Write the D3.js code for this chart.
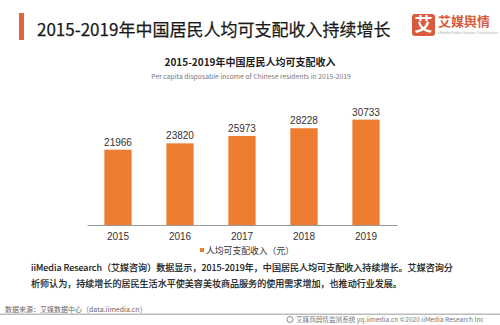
<!DOCTYPE html>
<html><head><meta charset="utf-8">
<script src="https://cdn.jsdelivr.net/npm/d3@7"></script>
<style>
html,body{margin:0;padding:0;background:#fff;}
svg{display:block;}
</style></head>
<body>
<svg id="c" width="500" height="325"></svg>
<script>
const years = ["2015","2016","2017","2018","2019"];
const income = [21966, 23820, 25973, 28228, 30733];
const seriesName = "人均可支配收入（元）";
const title = "2015-2019年中国居民人均可支配收入持续增长";
const chartTitle = "2015-2019年中国居民人均可支配收入";
const chartSubtitle = "Per capita disposable income of Chinese residents in 2015-2019";
const bodyLines = ["iiMedia Research（艾媒咨询）数据显示，2015-2019年，中国居民人均可支配收入持续增长。艾媒咨询分",
                   "析师认为，持续增长的居民生活水平使美容美妆商品服务的使用需求增加，也推动行业发展。"];
const sourceText = "数据来源：艾媒数据中心（data.iimedia.cn）";
const footerText = "艾媒商舆情监测系统 yq.iimedia.cn  ©2020  iiMedia Research  Inc";

const CJK = "'Noto Sans CJK SC','Noto Sans',sans-serif";
const svg = d3.select("#c");
const orange = "#ED7D31";
const red = "#DA5A3C";

// header
svg.append("rect").attr("x",19).attr("y",13).attr("width",5).attr("height",27).attr("fill","#E0643E");
svg.append("text").attr("x",37).attr("y",36).attr("font-family",CJK).attr("font-size",17)
  .attr("fill","#1a1a1a").attr("stroke","#1a1a1a").attr("stroke-width",0.25).text(title);
// logo
svg.append("rect").attr("x",412).attr("y",14).attr("width",23).attr("height",22).attr("rx",3).attr("fill",red);
svg.append("text").attr("x",423.5).attr("y",31).attr("text-anchor","middle").attr("font-family",CJK)
  .attr("font-weight","bold").attr("font-size",18).attr("fill","#fff").text("艾");
svg.append("text").attr("x",438).attr("y",26).attr("font-family",CJK).attr("font-weight","bold")
  .attr("font-size",13).attr("fill",red).text("艾媒舆情");
svg.append("text").attr("x",438).attr("y",34).attr("font-family",CJK).attr("font-size",3.6)
  .attr("fill","#aaa").text("iiMedia Public Opinion Consultation");

// chart titles
svg.append("text").attr("x",250).attr("y",66).attr("text-anchor","middle").attr("font-family",CJK)
  .attr("font-weight","bold").attr("font-size",10).attr("fill","#222").text(chartTitle);
svg.append("text").attr("x",251).attr("y",79).attr("text-anchor","middle").attr("font-family",CJK)
  .attr("font-size",6.8).attr("fill","#777").text(chartSubtitle);

// scales
const x = d3.scaleBand().domain(years).range([87,397]).paddingInner(0.56).paddingOuter(0.28);
const y = d3.scaleLinear().domain([0,35000]).range([225,105]);

const g = svg.append("g");
g.selectAll("rect.bar").data(income).join("rect").attr("class","bar")
  .attr("x",(d,i)=>x(years[i])).attr("width",x.bandwidth())
  .attr("y",d=>y(d)).attr("height",d=>y(0)-y(d)).attr("fill",orange);
g.selectAll("text.val").data(income).join("text").attr("class","val")
  .attr("x",(d,i)=>x(years[i])+x.bandwidth()/2).attr("y",d=>y(d)-4)
  .attr("text-anchor","middle").attr("font-family","'Liberation Sans',Arial,sans-serif")
  .attr("font-size",10).attr("fill","#333").text(d=>d);

const ax = svg.append("g").attr("transform","translate(0,225)")
  .call(d3.axisBottom(x).tickSize(0).tickPadding(8));
ax.select(".domain").attr("stroke","#999").attr("stroke-width",1);
ax.selectAll("text").attr("font-family","'Liberation Sans',Arial,sans-serif").attr("font-size",10).attr("fill","#333");

// legend
svg.append("rect").attr("x",200).attr("y",248).attr("width",4).attr("height",4).attr("fill",orange);
svg.append("text").attr("x",206).attr("y",254).attr("font-family",CJK).attr("font-size",8.8)
  .attr("fill","#333").text(seriesName);

// body
bodyLines.forEach((t,i)=>{
  svg.append("text").attr("x",31).attr("y",271+i*16).attr("font-family",CJK).attr("font-size",9.05)
    .attr("fill","#111").attr("stroke","#111").attr("stroke-width",0.2).text(t);
});
svg.append("text").attr("x",5).attr("y",312).attr("font-family",CJK).attr("font-size",7)
  .attr("fill","#666").text(sourceText);
svg.append("rect").attr("x",0).attr("y",313.5).attr("width",500).attr("height",1.5).attr("fill","#bbb");
svg.append("circle").attr("cx",290).attr("cy",319.5).attr("r",3).attr("fill","none").attr("stroke","#888").attr("stroke-width",1);
svg.append("text").attr("x",296).attr("y",322).attr("font-family",CJK).attr("font-size",6.6)
  .attr("fill","#777").text(footerText);
</script>
</body></html>
